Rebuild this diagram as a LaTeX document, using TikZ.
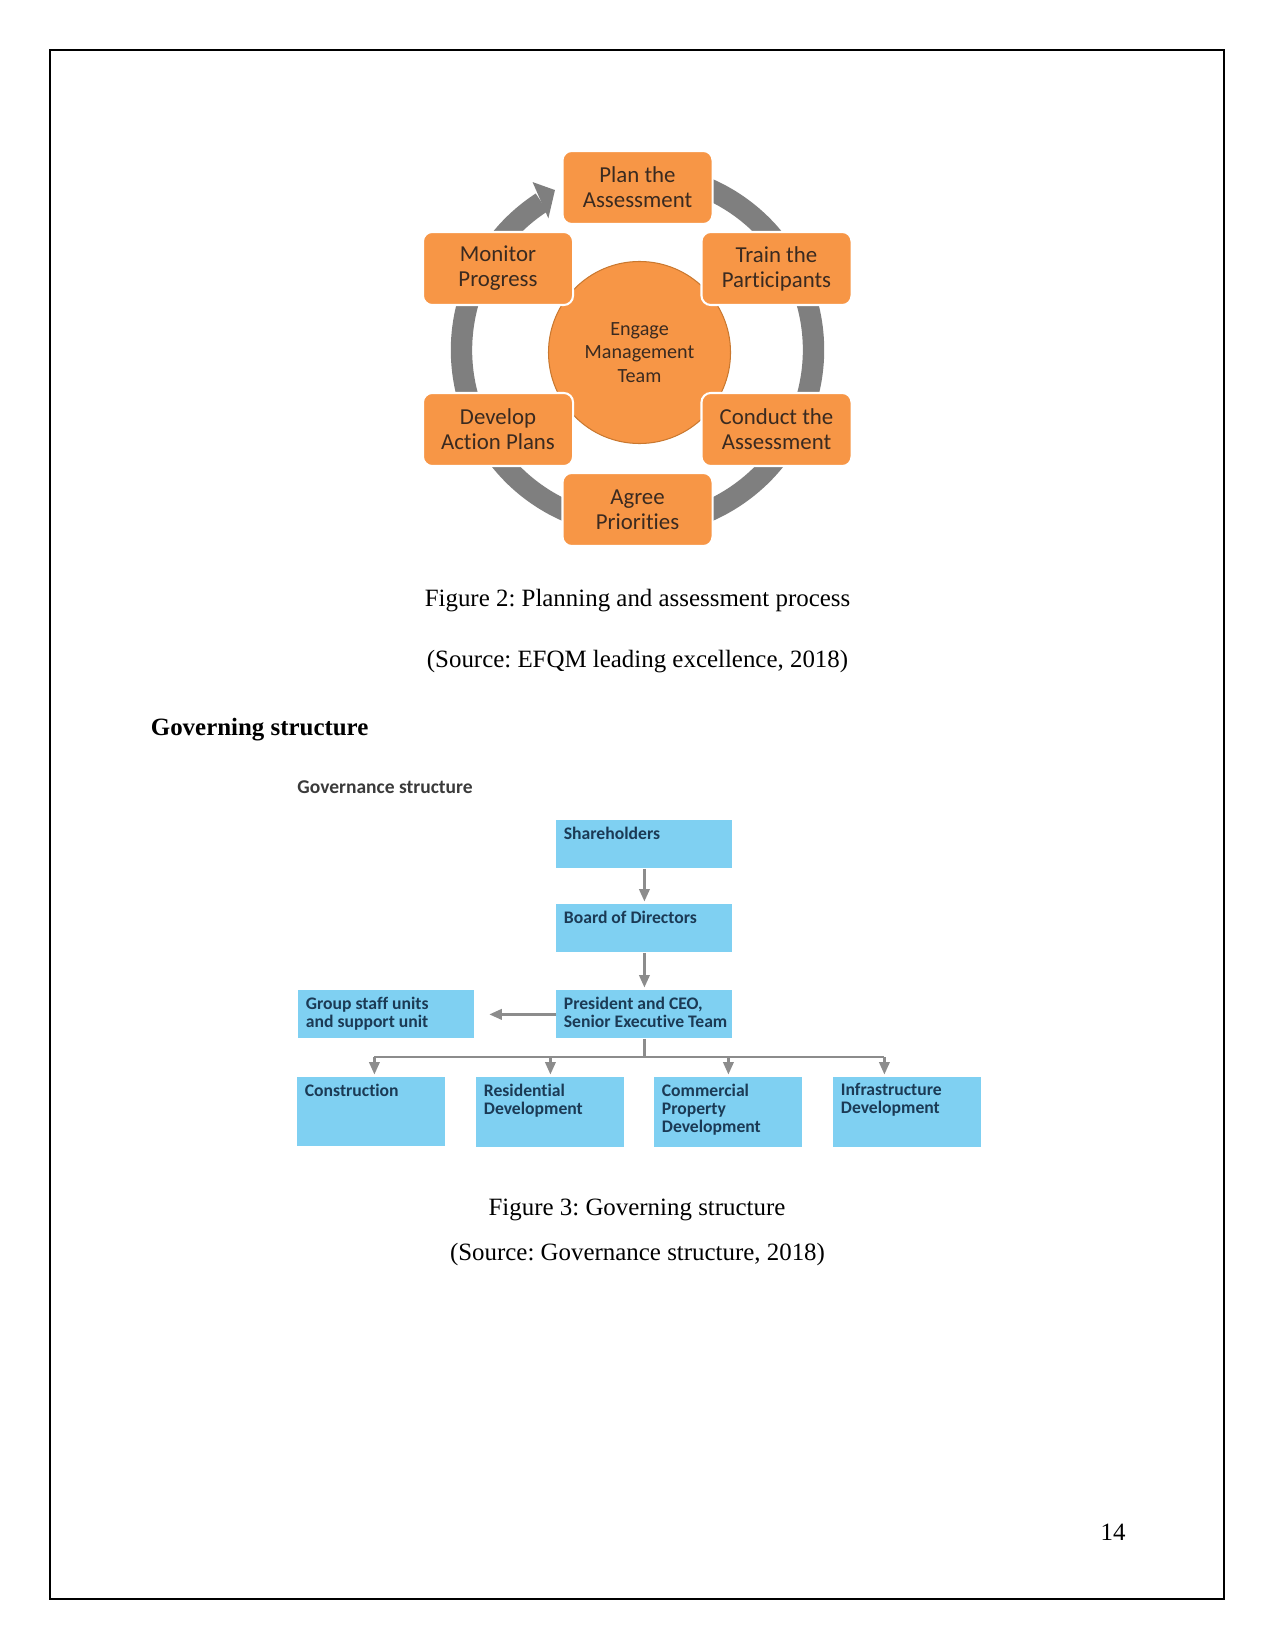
\documentclass[tikz,border=0pt]{standalone}
\usepackage{fontspec}
\setmainfont{Liberation Serif}
\newfontfamily\cyclefont[Ligatures=NoCommon]{Carlito}
\newfontfamily\orgfont[Ligatures=NoCommon]{Carlito}
\usetikzlibrary{arrows.meta,calc}
\definecolor{cyorange}{HTML}{F79646}
\definecolor{ringgray}{HTML}{7F7F7F}
\definecolor{cytext}{HTML}{3A2A20}
\definecolor{circedge}{HTML}{C9782F}
\definecolor{orgblue}{HTML}{7FD0F2}
\definecolor{orgtext}{HTML}{1B3A55}
\definecolor{orgline}{HTML}{8C8C8C}
\definecolor{titlegray}{HTML}{3A3A3A}
\frenchspacing
\begin{document}
\begin{tikzpicture}[x=0.4818pt,y=-0.4818pt,
  cybox/.style={draw=white, line width=1pt, fill=cyorange, rounded corners=4.5pt,
    minimum width=72.3pt, minimum height=35.2pt, inner sep=0pt, align=center,
    font=\cyclefont\fontsize{11}{12}\selectfont, text=cytext},
  cycirc/.style={circle, draw=circedge, line width=0.5pt, fill=cyorange,
    minimum size=87.7pt, inner sep=0pt, align=center,
    font=\cyclefont\fontsize{9.7}{11.3}\selectfont, text=cytext},
  orgbox/.style={fill=orgblue, anchor=north west, inner sep=0pt},
  topbox/.style={orgbox, minimum width=84.8pt, minimum height=23.1pt},
  botbox/.style={orgbox, minimum width=71.3pt, minimum height=33.7pt},
  orgtxt/.style={anchor=north west, inner xsep=3.6pt, inner ysep=3pt, align=left,
    font=\orgfont\bfseries\fontsize{8.5}{8.7}\selectfont, text=orgtext},
  orgarrow/.style={draw=orgline, line width=1.2pt,
    -{Triangle[length=6pt,width=5pt]}, shorten >=1.2pt},
  orgconn/.style={draw=orgline, line width=1.2pt},
  doctext/.style={anchor=base, inner sep=0pt, font=\fontsize{12}{14.4}\selectfont},
]
\useasboundingbox (0,0) rectangle (1275,1651);
\draw[line width=0.7pt] (50,50) rectangle (1224,1599);

% ---------------- cycle diagram ----------------
\coordinate (rc) at (637.5,350);
\draw[ringgray, line width=10.3pt] (rc) ++(237:176) arc[start angle=237, end angle=-70, radius=176];
\fill[ringgray] ($(rc)+(238:198)$) -- ($(rc)+(242.7:180)$) -- ($(rc)+(235.9:159)$) -- cycle;

\node[cycirc] (engage) at (639.5,352.5) {Engage\\Management\\Team};

\node[cybox] (plan)    at (637.5,187.5) {Plan the\\Assessment};
\node[cybox] (train)   at (776.5,268.5) {Train the\\Participants};
\node[cybox] (conduct) at (776.5,429.5) {Conduct the\\Assessment};
\node[cybox] (agree)   at (637.5,509.5) {Agree\\Priorities};
\node[cybox] (develop) at (498,429.5)   {Develop\\Action Plans};
\node[cybox] (monitor) at (498,268.5)   {Monitor\\Progress};

\node[doctext] (cap2) at (637.5,606.7) {Figure 2: Planning and assessment process};
\node[doctext] (src2) at (637.5,667) {(Source: EFQM leading excellence, 2018)};
\node[doctext, anchor=base west, font=\fontsize{12}{14.4}\selectfont\bfseries] (head) at (150.5,735) {Governing structure};

% ---------------- governance chart ----------------
\node[anchor=base west, inner sep=0pt, text=titlegray, font=\orgfont\bfseries\fontsize{9.4}{10}\selectfont] (gtitle) at (297,793) {Governance structure};

\node[topbox] (sh)   at (556,820) {};
\node[topbox] (bd)   at (556,904) {};
\node[topbox] (pres) at (556,990) {};
\node[topbox] (grp)  at (298,990) {};
\node[botbox, minimum height=32.8pt] (cons) at (297,1077) {};
\node[botbox] (res)   at (476,1077) {};
\node[botbox] (com)   at (654,1077) {};
\node[botbox] (infra) at (833,1077) {};

\node[orgtxt] (sh-t)   at (sh.north west)   {Shareholders};
\node[orgtxt] (bd-t)   at (bd.north west)   {Board of Directors};
\node[orgtxt] (pres-t) at (pres.north west) {President and CEO,\\Senior Executive Team};
\node[orgtxt] (grp-t)  at (grp.north west)  {Group staff units\\and support unit};
\node[orgtxt] (cons-t) at (cons.north west) {Construction};
\node[orgtxt] (res-t)  at (res.north west)  {Residential\\Development};
\node[orgtxt] (com-t)  at (com.north west)  {Commercial\\Property\\Development};
\node[orgtxt] (infra-t) at (infra.north west) {Infrastructure\\Development};

\draw[orgarrow] (sh.south) -- (bd.north);
\draw[orgarrow] (bd.south) -- (pres.north);
\coordinate (grptip) at ($(grp.east)+(12,0)$);
\draw[orgarrow] (pres.west) -- (grptip);

\coordinate (b1) at ($(cons.north)+(3,-20)$);
\coordinate (b2) at ($(res.north)+(0,-20)$);
\coordinate (b3) at ($(com.north)+(0,-20)$);
\coordinate (b4) at ($(infra.north)+(-23,-20)$);
\draw[orgconn] (pres.south) -- (pres.south |- b1);
\draw[orgconn] (b1) -- (b4);
\draw[orgarrow] (b1) -- (b1 |- cons.north);
\draw[orgarrow] (b2) -- (res.north);
\draw[orgarrow] (b3) -- (com.north);
\draw[orgarrow] (b4) -- (b4 |- infra.north);

\node[doctext] (cap3) at (637,1215) {Figure 3: Governing structure};
\node[doctext] (src3) at (637.5,1260) {(Source: Governance structure, 2018)};

\node[doctext] (pageno) at (1113,1540) {14};
\end{tikzpicture}
\end{document}
